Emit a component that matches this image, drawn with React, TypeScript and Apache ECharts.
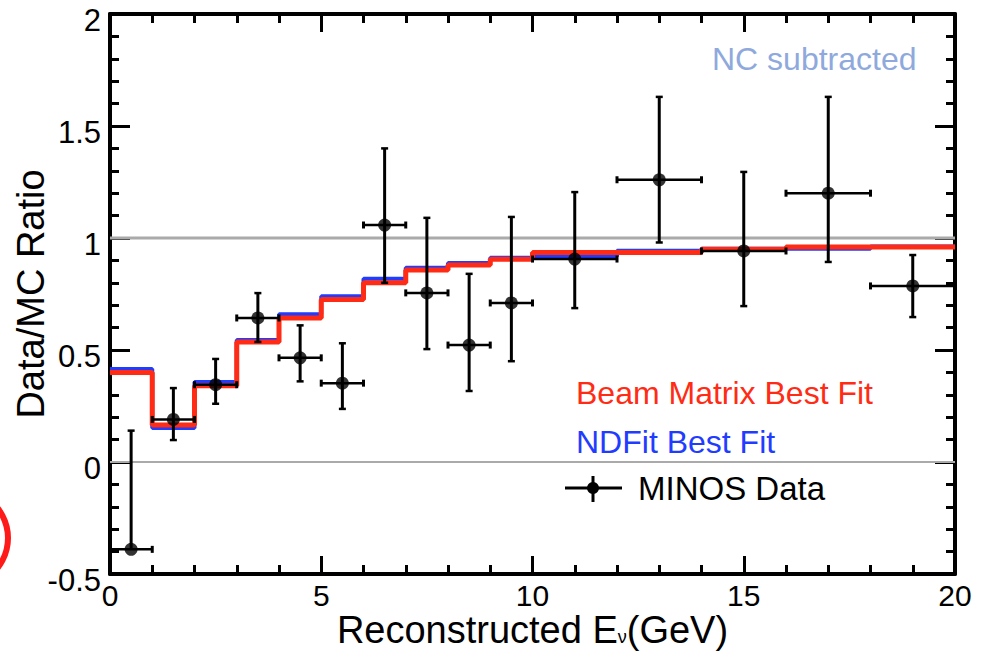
import React, { useEffect, useRef } from "react";
import * as echarts from "echarts";

// Histogram bin edges (GeV) and MC fit ratios per bin
const binEdges = [0, 1, 2, 3, 4, 5, 6, 7, 8, 9, 10, 12, 14, 16, 18, 20];
const beamMatrixFit = [0.40, 0.165, 0.34, 0.536, 0.643, 0.725, 0.80, 0.857, 0.88, 0.905, 0.935, 0.935, 0.95, 0.96, 0.96];
const ndFit = [0.415, 0.152, 0.357, 0.545, 0.66, 0.74, 0.818, 0.867, 0.888, 0.912, 0.918, 0.943, 0.952, 0.952, 0.962];

// MINOS data points
const dataX = [0.5, 1.5, 2.5, 3.5, 4.5, 5.5, 6.5, 7.5, 8.5, 9.5, 11, 13, 15, 17, 19];
const dataY = [-0.39, 0.19, 0.345, 0.643, 0.465, 0.352, 1.058, 0.755, 0.522, 0.71, 0.906, 1.26, 0.942, 1.2, 0.786];
const dataYLow = [-0.39, 0.098, 0.26, 0.536, 0.36, 0.237, 0.8, 0.504, 0.317, 0.45, 0.687, 0.98, 0.696, 0.893, 0.647];
const dataYHigh = [0.14, 0.33, 0.46, 0.754, 0.61, 0.53, 1.4, 1.09, 0.84, 1.094, 1.205, 1.63, 1.295, 1.63, 0.924];
const dataXLow = [0, 1, 2, 3, 4, 5, 6, 7, 8, 9, 10, 12, 14, 16, 18];
const dataXHigh = [1, 2, 3, 4, 5, 6, 7, 8, 9, 10, 12, 14, 16, 18, 20];

// Axis settings
const xMin = 0, xMax = 20, xInterval = 5;
const yMin = -0.5, yMax = 2, yInterval = 0.5;
const refLines = [1, 0];

const FONT = '"Liberation Sans", Arial, Helvetica, sans-serif';

function stepData(values: number[]) {
  const pts = values.map((v, i) => [binEdges[i], v]);
  pts.push([binEdges[binEdges.length - 1], values[values.length - 1]]);
  return pts;
}

export default function App() {
  const ref = useRef<HTMLDivElement>(null);
  useEffect(() => {
    if (!ref.current) return;
    const chart = echarts.init(ref.current, undefined, { renderer: "svg" });

    const axisCommon = {
      type: "value" as const,
      axisLine: { show: true, onZero: false, lineStyle: { color: "#000", width: 4 } },
      splitLine: { show: false },
    };

    const errData = dataX.map((x, i) => [x, dataY[i], dataYLow[i], dataYHigh[i], dataXLow[i], dataXHigh[i]]);

    const option: any = {
      animation: false,
      backgroundColor: "#fff",
      grid: { left: 110, top: 14, width: 845, height: 560, containLabel: false, outerBoundsMode: "none" },
      xAxis: [
        {
          ...axisCommon,
          position: "bottom",
          min: xMin, max: xMax, interval: xInterval,
          axisTick: { show: true, inside: true, length: 18, lineStyle: { color: "#000", width: 3 } },
          minorTick: { show: true, splitNumber: 5, length: 9, lineStyle: { color: "#000", width: 3 } },
          axisLabel: { show: true, color: "#000", fontSize: 30, fontFamily: FONT, margin: 8, lineHeight: 26 },
          name: "Reconstructed E{sub|ν}(GeV)",
          nameLocation: "middle",
          nameGap: 40,
          nameMoveOverlap: false,
          nameTextStyle: {
            color: "#000", fontSize: 38, fontFamily: FONT, lineHeight: 32,
            rich: { sub: { fontSize: 18, fontFamily: FONT, color: "#000", verticalAlign: "bottom", lineHeight: 32 } },
          },
        },
        {
          ...axisCommon,
          position: "top",
          min: xMin, max: xMax, interval: xInterval,
          axisTick: { show: true, inside: true, length: 18, lineStyle: { color: "#000", width: 3 } },
          minorTick: { show: true, splitNumber: 5, length: 9, lineStyle: { color: "#000", width: 3 } },
          axisLabel: { show: false },
        },
      ],
      yAxis: [
        {
          ...axisCommon,
          position: "left",
          min: yMin, max: yMax, interval: yInterval,
          axisTick: { show: true, inside: true, length: 20, lineStyle: { color: "#000", width: 3 } },
          minorTick: { show: true, splitNumber: 5, length: 9, lineStyle: { color: "#000", width: 3 } },
          axisLabel: {
            show: true, color: "#000", fontSize: 31, fontFamily: FONT, margin: 9,
            verticalAlign: "top", lineHeight: 12,
          },
          name: "Data/MC Ratio",
          nameLocation: "middle",
          nameGap: 60,
          nameMoveOverlap: false,
          nameRotate: 90,
          nameTextStyle: { color: "#000", fontSize: 38, fontFamily: FONT, lineHeight: 38 },
        },
        {
          ...axisCommon,
          position: "right",
          min: yMin, max: yMax, interval: yInterval,
          axisTick: { show: true, inside: true, length: 20, lineStyle: { color: "#000", width: 3 } },
          minorTick: { show: true, splitNumber: 5, length: 9, lineStyle: { color: "#000", width: 3 } },
          axisLabel: { show: false },
        },
      ],
      series: [
        ...refLines.map((v, i) => ({
          type: "line",
          silent: true,
          symbol: "none",
          data: [[xMin, v], [xMax, v]],
          lineStyle: { color: "#aaaaaa", width: i === 0 ? 3 : 2 },
          z: 1,
        })),
        {
          name: "NDFit Best Fit",
          type: "line",
          step: "end",
          symbol: "none",
          data: stepData(ndFit),
          lineStyle: { color: "#1f3cff", width: 4 },
          z: 2,
        },
        {
          name: "Beam Matrix Best Fit",
          type: "line",
          step: "end",
          symbol: "none",
          data: stepData(beamMatrixFit),
          lineStyle: { color: "#ff2b14", width: 5 },
          z: 3,
        },
        {
          name: "MINOS Data errors",
          type: "custom",
          z: 4,
          data: errData,
          renderItem: (params: any, api: any) => {
            const x = api.value(0), y = api.value(1);
            const yl = api.value(2), yh = api.value(3);
            const xl = api.value(4), xh = api.value(5);
            const c = api.coord([x, y]);
            const top = api.coord([x, yh]);
            const bot = api.coord([x, yl]);
            const left = api.coord([xl, y]);
            const right = api.coord([xh, y]);
            const vs = { stroke: "#000", lineWidth: 3 };
            const hs = { stroke: "#000", lineWidth: 2.5 };
            const cap = 3.5;
            const children: any[] = [];
            children.push({ type: "line", shape: { x1: c[0], y1: top[1], x2: c[0], y2: bot[1] }, style: vs });
            if (Math.abs(top[1] - c[1]) > 1)
              children.push({ type: "line", shape: { x1: c[0] - cap, y1: top[1], x2: c[0] + cap, y2: top[1] }, style: hs });
            if (Math.abs(bot[1] - c[1]) > 1)
              children.push({ type: "line", shape: { x1: c[0] - cap, y1: bot[1], x2: c[0] + cap, y2: bot[1] }, style: hs });
            children.push({ type: "line", shape: { x1: left[0], y1: c[1], x2: right[0], y2: c[1] }, style: hs });
            children.push({ type: "line", shape: { x1: left[0], y1: c[1] - cap, x2: left[0], y2: c[1] + cap }, style: vs });
            children.push({ type: "line", shape: { x1: right[0], y1: c[1] - cap, x2: right[0], y2: c[1] + cap }, style: vs });
            return { type: "group", children };
          },
        },
        {
          name: "MINOS Data",
          type: "scatter",
          symbol: "circle",
          symbolSize: 13,
          data: dataX.map((x, i) => [x, dataY[i]]),
          itemStyle: { color: "#000" },
          z: 5,
        },
      ],
      graphic: [
        {
          type: "text",
          x: 712, y: 59,
          style: { text: "NC subtracted", fill: "#8fa9dc", fontSize: 32, fontFamily: FONT, align: "left", verticalAlign: "middle" },
        },
        {
          type: "text",
          x: 576, y: 393,
          style: { text: "Beam Matrix Best Fit", fill: "#ff2b14", fontSize: 32, fontFamily: FONT, align: "left", verticalAlign: "middle" },
        },
        {
          type: "text",
          x: 576, y: 442,
          style: { text: "NDFit Best Fit", fill: "#1f3cff", fontSize: 32, fontFamily: FONT, align: "left", verticalAlign: "middle" },
        },
        {
          type: "line",
          shape: { x1: 565, y1: 488, x2: 622, y2: 488 },
          style: { stroke: "#000", lineWidth: 3 },
        },
        {
          type: "line",
          shape: { x1: 593, y1: 476, x2: 593, y2: 502 },
          style: { stroke: "#000", lineWidth: 3 },
        },
        {
          type: "circle",
          shape: { cx: 593, cy: 488, r: 6 },
          style: { fill: "#000" },
        },
        {
          type: "text",
          x: 638, y: 488,
          style: { text: "MINOS Data", fill: "#000", fontSize: 33, fontFamily: FONT, align: "left", verticalAlign: "middle" },
        },
        {
          type: "circle",
          shape: { cx: -40, cy: 538, r: 48 },
          style: { fill: "none", stroke: "#ff1a1a", lineWidth: 6 },
        },
      ],
    };

    chart.setOption(option);
    return () => chart.dispose();
  }, []);

  return <div ref={ref} style={{ width: 987, height: 653, position: "absolute", left: 0, top: 0 }} />;
}
